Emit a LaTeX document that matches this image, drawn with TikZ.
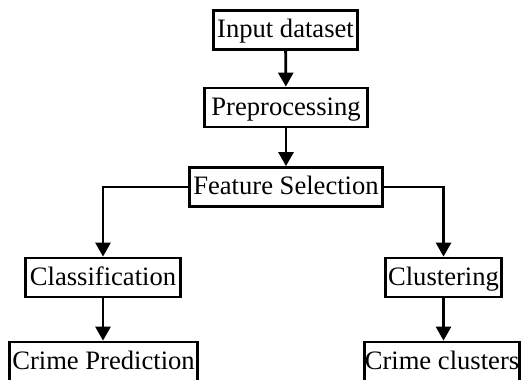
\documentclass[tikz,border=0pt]{standalone}
\usepackage{fontspec}
\setmainfont{Liberation Serif}
\usetikzlibrary{arrows.meta}
\begin{document}
\begin{tikzpicture}[x=1pt,y=1pt,
  box/.style={draw=black, line width=2.8pt, fill=white, inner xsep=0pt, inner ysep=0pt,
    minimum height=39pt, font=\fontsize{26.6}{30}\selectfont, text height=19.5pt, text depth=4pt},
  conn/.style={line width=2.8pt, -{Triangle[length=14pt,width=15pt]}}]
\clip (0,0) rectangle (525,380);
\useasboundingbox (0,0) rectangle (525,380);
\node[box, minimum width=144pt] (in)  at (285.5,349.75) {Input dataset};
\node[box, minimum width=163pt] (pre) at (286,272.5) {Preprocessing};
\node[box, minimum width=193pt] (fs)  at (286,193) {Feature Selection};
\node[box, minimum width=155pt] (cls) at (103,102.5) {Classification};
\node[box, minimum width=116pt] (clu) at (443.5,102.5) {Clustering};
\node[box, minimum width=188pt] (cp)  at (103.5,18.5) {Crime Prediction};
\node[box, minimum width=155pt] (cc)  at (442,18.5) {Crime clusters};
\draw[conn] (in) -- (pre);
\draw[conn] (pre) -- (fs);
\draw[conn] (fs.west) -| (cls.north);
\draw[conn] (fs.east) -| (clu.north);
\draw[conn] (cls) -- (cls |- cp.north);
\draw[conn] (clu) -- (clu |- cc.north);
\end{tikzpicture}
\end{document}
